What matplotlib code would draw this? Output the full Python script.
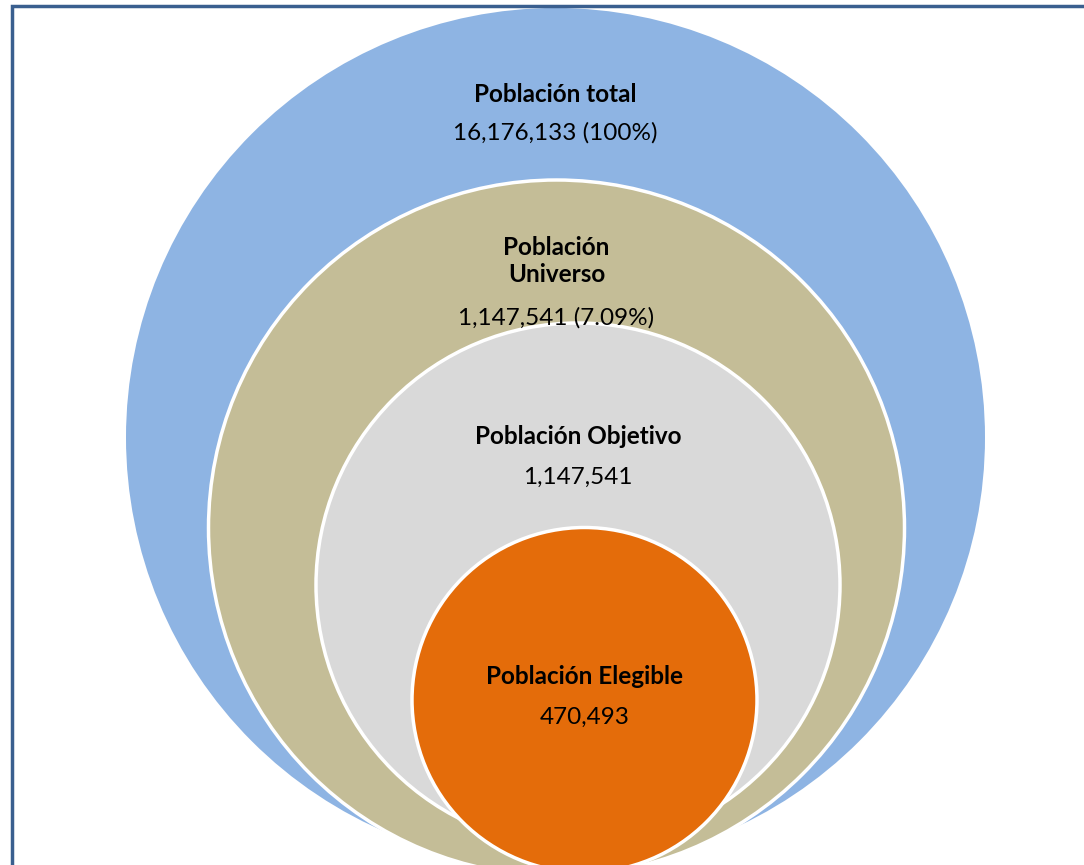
import matplotlib
matplotlib.use("Agg")
import matplotlib.pyplot as plt
from matplotlib.patches import Circle

# datos
titulos = ["Población total", "Población\nUniverso", "Población Objetivo", "Población Elegible"]
valores = [16176133, 1147541, 1147541, 470493]
porcentajes = ["100%", "7.09%", None, None]

# layout (pixeles): centro x, centro y, radio
circulos = [(555.5, 437.5, 429.5), (556.5, 528, 348), (578, 585, 262), (584.5, 700, 172.5)]
colores = ["#8EB4E3", "#C4BD97", "#D9D9D9", "#E46C0A"]
pos_titulo = [94, 261, 437, 677]
pos_valor = [133, 318, 477, 717]

plt.rcParams['font.family'] = ['Lato', 'DejaVu Sans']

fig = plt.figure(figsize=(10.84, 8.65), dpi=100)
ax = fig.add_axes([0, 0, 1, 1])
ax.set_xlim(0, 1084)
ax.set_ylim(865, 0)
ax.set_aspect('equal')
ax.axis('off')

for i, (cx, cy, r) in enumerate(circulos):
    ec = "none" if i == 0 else "white"
    ax.add_patch(Circle((cx, cy), r, facecolor=colores[i], edgecolor=ec, linewidth=2.5, zorder=i + 1))

for i in range(len(titulos)):
    cx = circulos[i][0]
    ax.text(cx, pos_titulo[i], titulos[i], ha='center', va='center', fontsize=17.5,
            fontweight='bold', color='black', linespacing=1.2, zorder=10)
    txt = f"{valores[i]:,}"
    if porcentajes[i]:
        txt += f" ({porcentajes[i]})"
    ax.text(cx, pos_valor[i], txt, ha='center', va='center', fontsize=17.5,
            color='black', zorder=10)

# marco
ax.plot([11.5, 11.5, 1084], [865, 5.5, 5.5], color="#3A5F8F", linewidth=2.5,
        solid_joinstyle='miter', zorder=20, clip_on=False)

fig.savefig("out.png", dpi=100)
